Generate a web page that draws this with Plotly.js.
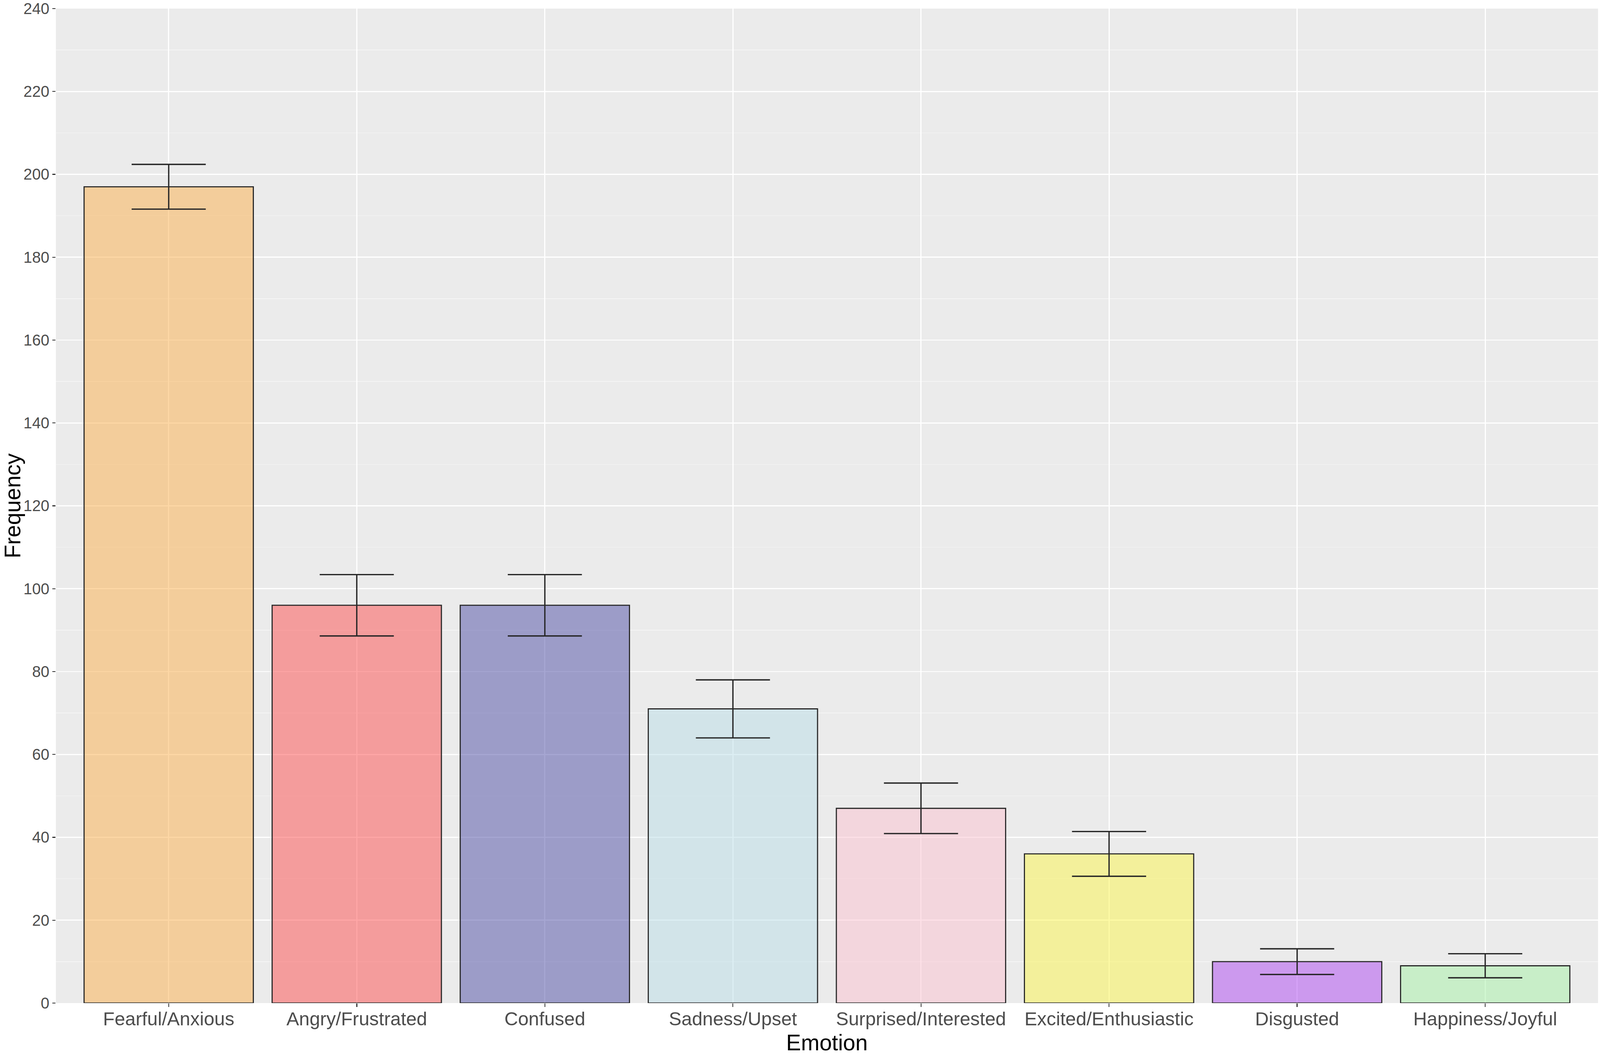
<!DOCTYPE html>
<html>
<head>
<meta charset="utf-8">
<script src="https://cdn.plot.ly/plotly-3.0.1.min.js"></script>
<style>html,body{margin:0;padding:0;background:#fff;overflow:hidden;} #chart{position:absolute;left:0;top:0;}</style>
</head>
<body>
<div id="chart"></div>
<script>
var categories = ["Fearful/Anxious", "Angry/Frustrated", "Confused", "Sadness/Upset", "Surprised/Interested", "Excited/Enthusiastic", "Disgusted", "Happiness/Joyful"];
var frequency = [197, 96, 96, 71, 47, 36, 10, 9];
var errorHalf = [5.4, 7.4, 7.4, 7.0, 6.1, 5.4, 3.1, 2.9];
var barColors = ["rgba(251,175,75,0.5)", "rgba(253,77,77,0.5)", "rgba(77,77,165,0.5)", "rgba(185,221,231,0.5)", "rgba(251,193,207,0.5)", "rgba(251,245,75,0.5)", "rgba(173,71,241,0.5)", "rgba(165,241,165,0.5)"];
var yTickVals = [0, 20, 40, 60, 80, 100, 120, 140, 160, 180, 200, 220, 240];

var W = Math.min(window.innerWidth || 4317, document.documentElement.clientWidth || 4317);
var H = Math.min(window.innerHeight || 2702, document.documentElement.clientHeight || 2702);
if (!W || W < 100) W = 4317;
if (!H || H < 100) H = 2702;
var sx = W / 4317, sy = H / 2702, s = Math.min(sx, sy);

var font = "Liberation Sans, Arial, Helvetica, sans-serif";

var trace = {
  type: "bar",
  x: categories,
  y: frequency,
  marker: { color: barColors, line: { color: "#262626", width: 3 * s } },
  error_y: { type: "data", array: errorHalf, visible: true, color: "#262626", thickness: 3.5 * s, width: 100 * sx },
  hoverinfo: "x+y",
  showlegend: false
};

var layout = {
  width: W,
  height: H,
  margin: { l: 151 * sx, r: 5 * sx, t: 22 * sy, b: 133 * sy, pad: 0 },
  paper_bgcolor: "#ffffff",
  plot_bgcolor: "#EBEBEB",
  bargap: 0.1,
  font: { family: font, color: "#4D4D4D" },
  xaxis: {
    type: "category",
    range: [-0.6, 7.6],
    showgrid: true,
    gridcolor: "#ffffff",
    gridwidth: 3 * s,
    zeroline: false,
    showline: false,
    ticks: "outside",
    ticklen: 10 * s,
    tickwidth: 2.5 * s,
    tickcolor: "#333333",
    ticklabelstandoff: Math.round(-13 * s),
    tickfont: { family: font, size: 51 * s, color: "#4D4D4D" },
    title: { text: "Emotion", font: { family: font, size: 60 * s, color: "#000000" }, standoff: 34 * s },
    automargin: false,
    fixedrange: true
  },
  yaxis: {
    range: [0, 240],
    tickmode: "array",
    tickvals: yTickVals,
    ticktext: yTickVals.map(String),
    ticklabeloverflow: "allow",
    showgrid: true,
    gridcolor: "#ffffff",
    gridwidth: 3 * s,
    minor: { dtick: 10, tick0: 10, showgrid: true, gridcolor: "#F5F5F5", gridwidth: 1.5 * s, ticks: "" },
    zeroline: false,
    showline: false,
    ticks: "outside",
    ticklen: 8 * s,
    tickwidth: 2.5 * s,
    tickcolor: "#333333",
    tickfont: { family: font, size: 42 * s, color: "#4D4D4D" },
    title: { text: "Frequency", font: { family: font, size: 60 * s, color: "#000000" }, standoff: 20 * s },
    automargin: false,
    fixedrange: true
  }
};

Plotly.newPlot("chart", [trace], layout, { displayModeBar: false, staticPlot: true });
</script>
</body>
</html>
